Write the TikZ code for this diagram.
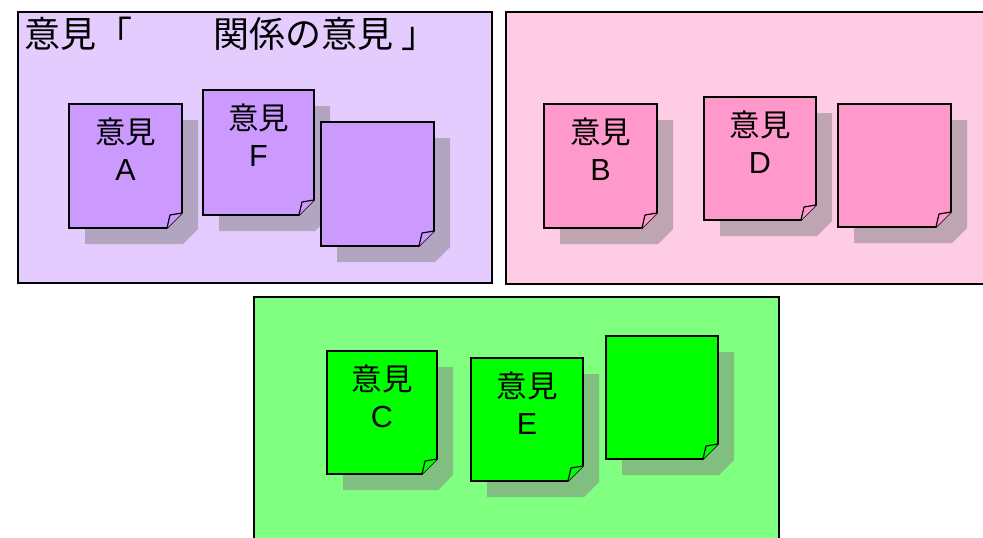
\documentclass[tikz,border=0pt]{standalone}
\usepackage{fontspec}
\setmainfont{Liberation Sans}
\newfontfamily\cjk{Noto Sans CJK JP}
\definecolor{panelP}{HTML}{E5CCFF}
\definecolor{panelK}{HTML}{FFCCE6}
\definecolor{panelG}{HTML}{80FF80}
\definecolor{noteP}{HTML}{CC99FF}
\definecolor{noteK}{HTML}{FF99CC}
\definecolor{noteG}{HTML}{00FF00}
\tikzset{
  panel/.style={draw=black, line width=1.6pt, inner sep=0pt, anchor=north west},
  notebody/.style={draw=black, line width=1.7pt, line join=miter},
  noteflap/.style={draw=black, line width=1.2pt, line join=round},
  noteshadow/.style={fill=gray, fill opacity=0.5},
  notetext/.style={font=\fontsize{30.5}{36.5}\selectfont, align=center, anchor=north, inner sep=0pt},
  titletext/.style={font=\cjk\fontsize{36}{40}\selectfont, anchor=base west, inner sep=0pt}
}
% name, x, y, w, h, colour, text
\newcommand\stickynote[7]{%
  \begin{scope}[shift={(#2,#3)}]
    \fill[noteshadow] (16,16) -- (16+#4,16) -- (16+#4,16+#5-15) -- (16+#4-15,16+#5) -- (16,16+#5) -- cycle;
    \filldraw[notebody, fill=#6] (0,0) -- (#4,0) -- (#4,#5-15) -- (#4-15,#5) -- (0,#5) -- cycle;
    \filldraw[noteflap, fill=#6] (#4-15,#5) .. controls (#4-14,#5-6) .. (#4-12,#5-13) .. controls (#4-6,#5-13.5) .. (#4,#5-15);
    \node[notetext] (#1) at (#4/2,14) {#7};
  \end{scope}}
\begin{document}
\begin{tikzpicture}[x=1pt, y=-1pt]
\clip (0,0) rectangle (983,538);
% panels
\node[panel, fill=panelP, minimum width=474pt, minimum height=271pt] (pPurple) at (17,11) {};
\node[panel, fill=panelK, minimum width=490pt, minimum height=272pt] (pPink) at (505,11) {};
\node[panel, fill=panelG, minimum width=525pt, minimum height=260pt] (pGreen) at (253,296) {};
% title
\node[titletext] (t1) at (24,47) {意見「};
\node[titletext] (t2) at (213,47) {関係の意見\kern8pt 」};
% purple notes
\stickynote{nA}{69}{104}{113}{124}{noteP}{{\cjk 意見}\\A}
\stickynote{nF}{203}{90}{111}{125}{noteP}{{\cjk 意見}\\F}
\stickynote{nP3}{321}{122}{113}{124}{noteP}{}
% pink notes
\stickynote{nB}{544}{104}{113}{124}{noteK}{{\cjk 意見}\\B}
\stickynote{nD}{704}{97}{112}{123}{noteK}{{\cjk 意見}\\D}
\stickynote{nK3}{838}{104}{113}{123}{noteK}{}
% green notes
\stickynote{nC}{327}{351}{110}{123}{noteG}{{\cjk 意見}\\C}
\stickynote{nE}{471}{358}{112}{123}{noteG}{{\cjk 意見}\\E}
\stickynote{nG3}{606}{336}{112}{123}{noteG}{}
\end{tikzpicture}
\end{document}
